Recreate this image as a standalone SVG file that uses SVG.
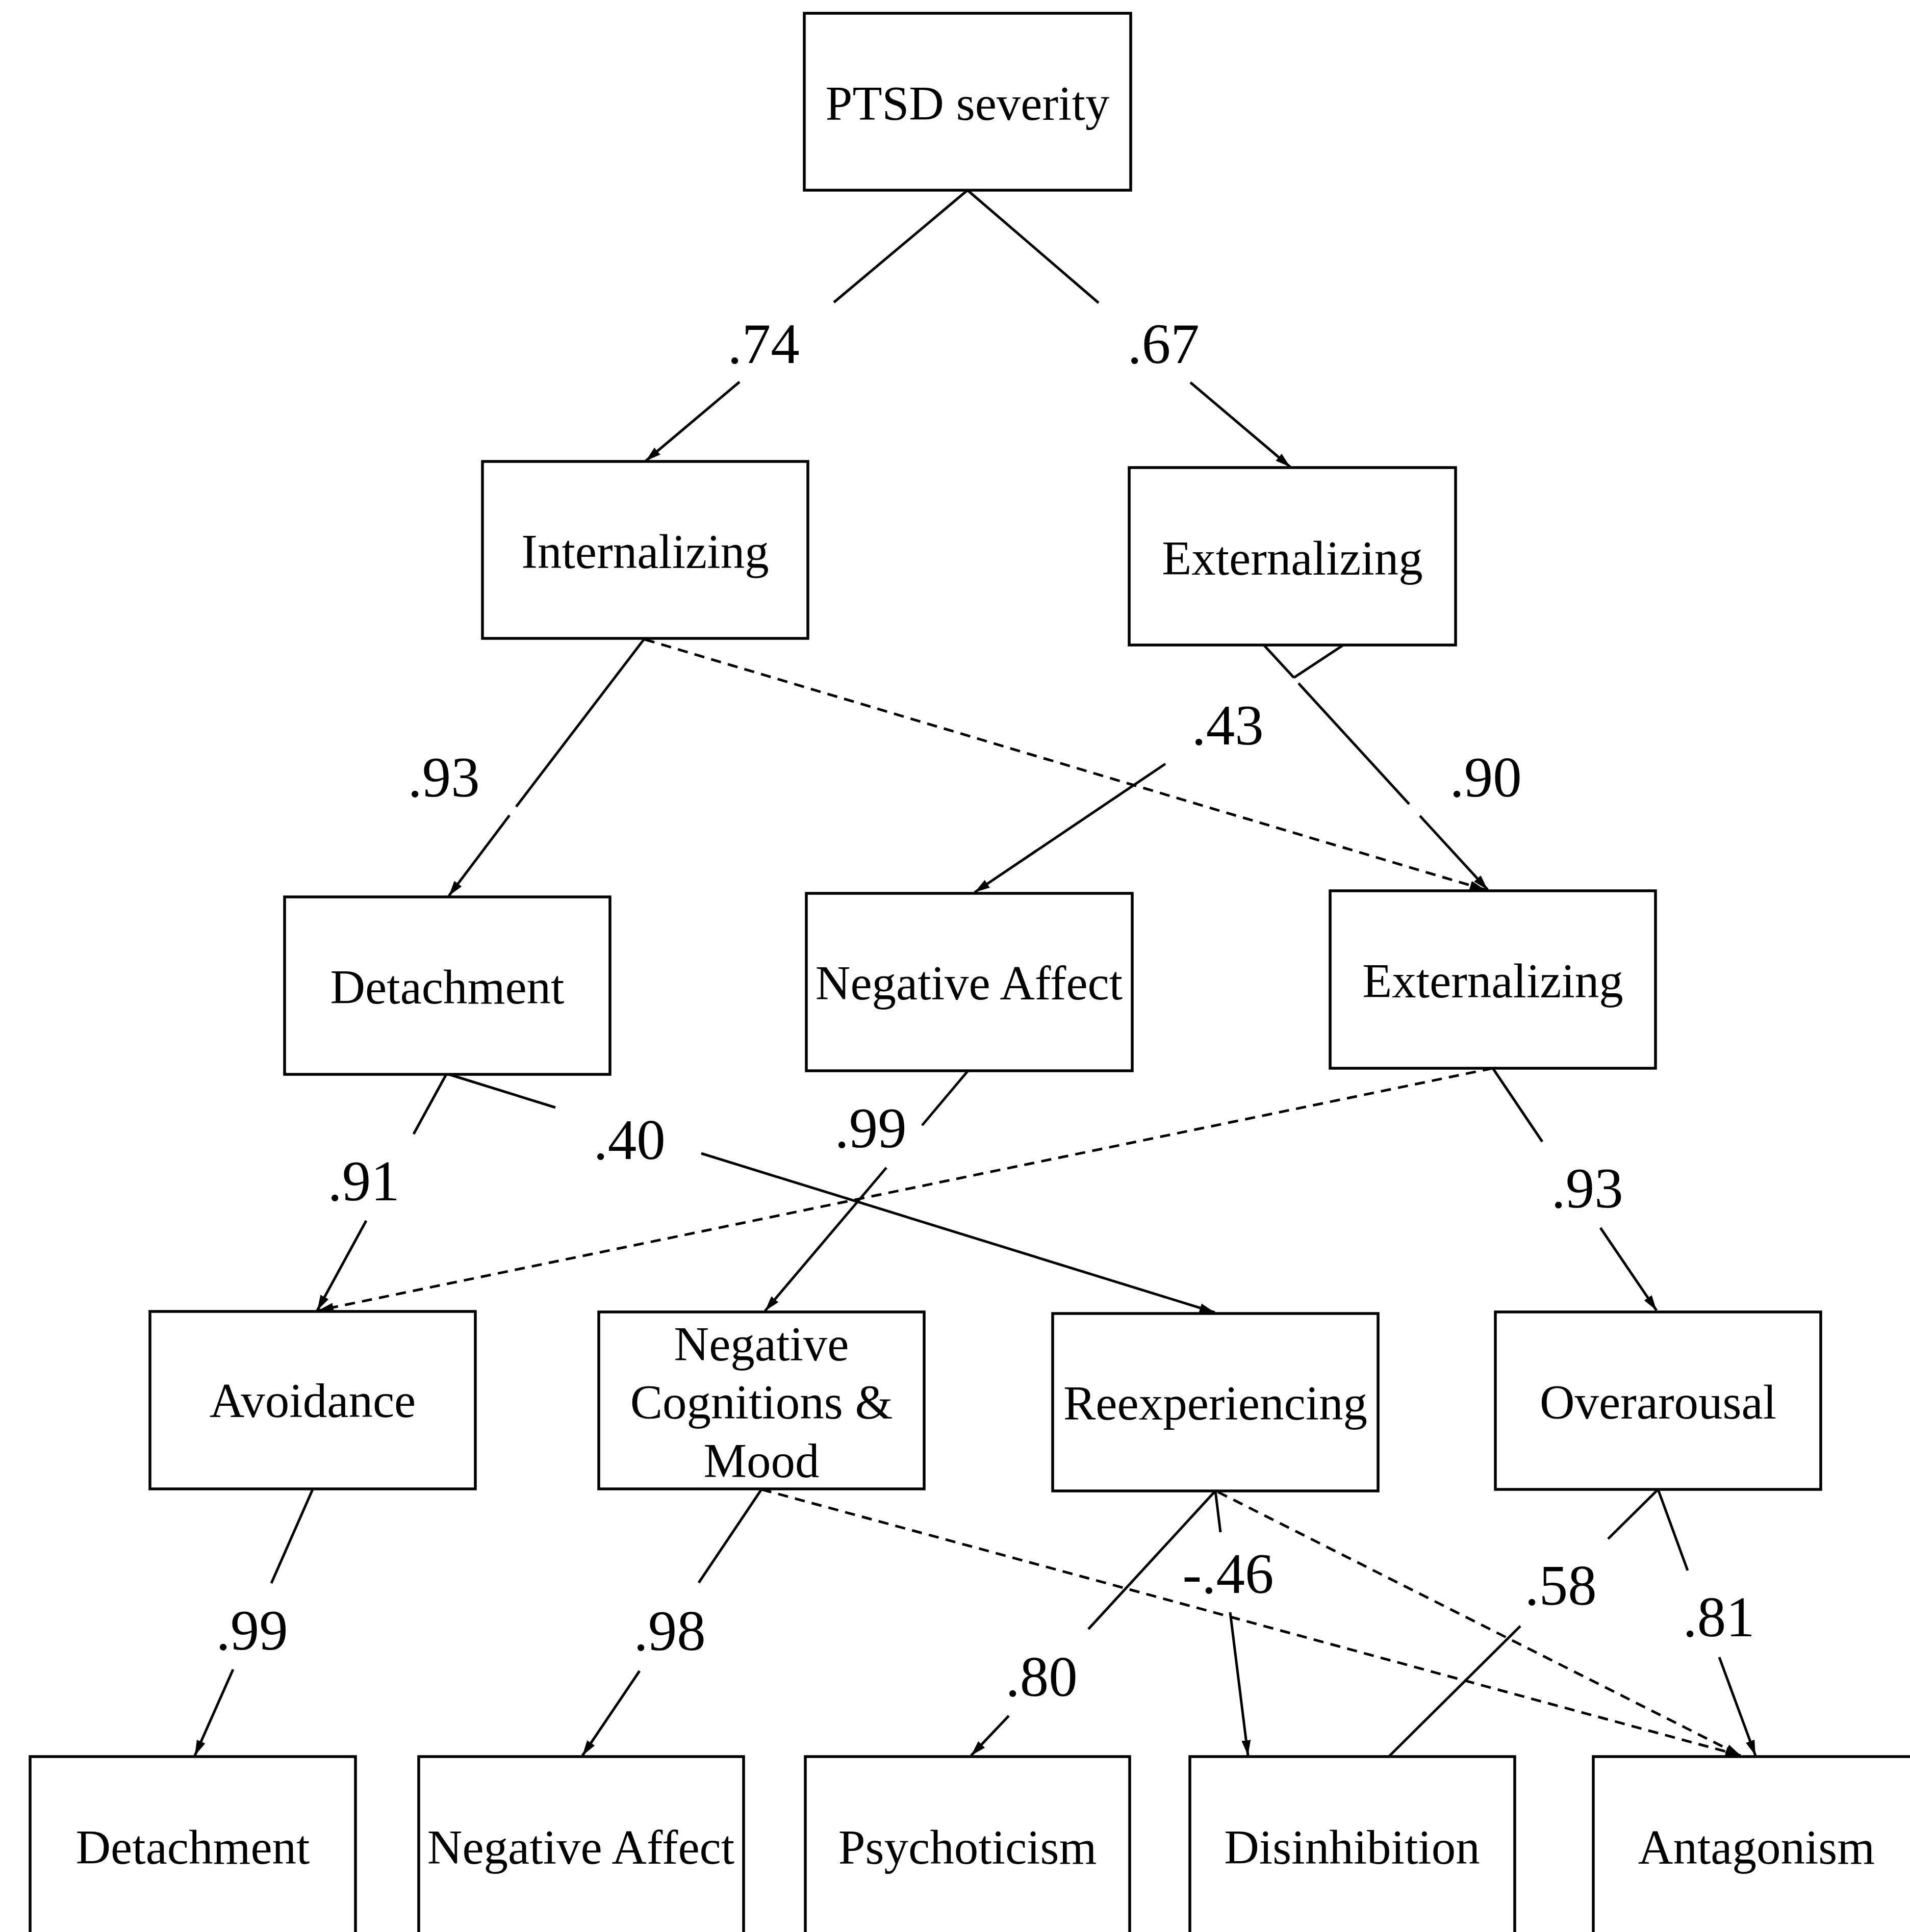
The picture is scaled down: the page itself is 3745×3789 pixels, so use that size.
<svg xmlns="http://www.w3.org/2000/svg" width="3745" height="3789" viewBox="0 0 3745 3789">
<style>
.box{fill:#fff;stroke:#000;stroke-width:5.5}
.nt{font-family:"Liberation Serif","Times New Roman",serif;font-size:95px;text-anchor:middle;fill:#000}
.lb{font-family:"Liberation Serif","Times New Roman",serif;font-size:113px;text-anchor:middle;fill:#000}
.ln{fill:none;stroke:#000;stroke-width:5}
.arr{marker-end:url(#ah)}
.dash{fill:none;stroke:#000;stroke-width:5;stroke-dasharray:20 14;marker-end:url(#ah)}
</style>
<defs>
<marker id="ah" markerUnits="userSpaceOnUse" markerWidth="32" markerHeight="20" refX="30" refY="10" orient="auto" viewBox="0 0 32 20">
<path d="M0,1 L30,10 L0,19 Z" fill="#000"/>
</marker>
</defs>
<rect width="3745" height="3789" fill="#fff"/>
<g id="connectors">
<path class="ln arr" d="M1897,373 L1635,593 M1450,749 L1266,904"/>
<path class="ln arr" d="M1897,373 L2154,594 M2334,750 L2530,916"/>
<path class="ln arr" d="M1264,1252 L1012,1582 M999,1599 L880,1757"/>
<path class="ln arr" d="M2634,1265 L2537,1329 M2285,1498 L1911,1750"/>
<path class="ln arr" d="M2478,1265 L2537,1329 M2546,1340 L2763,1577 M2784,1600 L2917,1745"/>
<path class="dash" d="M1264,1254 L2912,1745"/>
<path class="ln arr" d="M875,2107 L811,2224 M718,2394 L622,2570"/>
<path class="ln arr" d="M880,2107 L1089,2172 M1375,2262 L2382,2574"/>
<path class="ln arr" d="M1898,2100 L1808,2207 M1738,2290 L1500,2571"/>
<path class="dash" d="M2927,2095 L624,2570"/>
<path class="ln arr" d="M2927,2095 L3024,2239 M3138,2408 L3248,2570"/>
<path class="ln arr" d="M613,2921 L532,3105 M457,3274 L382,3443"/>
<path class="ln arr" d="M1493,2921 L1370,3104 M1254,3277 L1142,3443"/>
<path class="dash" d="M1493,2921 L3413,3443"/>
<path class="ln arr" d="M2383,2924 L2134,3195 M1978,3365 L1904,3443"/>
<path class="ln arr" d="M2383,2924 L2393,3005 M2412,3162 L2447,3443"/>
<path class="dash" d="M2388,2926 L3413,3443"/>
<path class="ln" d="M2723,3445 L2981,3189 M3153,3018 L3251,2921"/>
<path class="ln arr" d="M3251,2921 L3309,3080 M3371,3250 L3442,3443"/>
</g>
<g id="labels">
<text class="lb" x="1497" y="712">.74</text>
<text class="lb" x="2281" y="712">.67</text>
<text class="lb" x="870" y="1562">.93</text>
<text class="lb" x="2407" y="1460">.43</text>
<text class="lb" x="2913" y="1562">.90</text>
<text class="lb" x="713" y="2354">.91</text>
<text class="lb" x="1234" y="2273">.40</text>
<text class="lb" x="1707" y="2250">.99</text>
<text class="lb" x="3112" y="2368">.93</text>
<text class="lb" x="494" y="3235">.99</text>
<text class="lb" x="1313" y="3236">.98</text>
<text class="lb" x="2042" y="3326">.80</text>
<text class="lb" x="2408" y="3124">-.46</text>
<text class="lb" x="3060" y="3147">.58</text>
<text class="lb" x="3370" y="3209">.81</text>
</g>
<g id="node-ptsd"><rect class="box" x="1577" y="26" width="640" height="347"/><text class="nt" x="1897" y="235">PTSD severity</text></g>
<g id="node-internalizing"><rect class="box" x="946" y="905" width="638" height="347"/><text class="nt" x="1265" y="1114">Internalizing</text></g>
<g id="node-externalizing-top"><rect class="box" x="2214" y="917" width="640" height="348"/><text class="nt" x="2534" y="1127">Externalizing</text></g>
<g id="node-detachment-mid"><rect class="box" x="558" y="1759" width="638" height="348"/><text class="nt" x="877" y="1968">Detachment</text></g>
<g id="node-negaffect-mid"><rect class="box" x="1581" y="1752" width="639" height="348"/><text class="nt" x="1900" y="1960">Negative Affect</text></g>
<g id="node-externalizing-mid"><rect class="box" x="2608" y="1747" width="638" height="348"/><text class="nt" x="2927" y="1956">Externalizing</text></g>
<g id="node-avoidance"><rect class="box" x="294" y="2572" width="638" height="348"/><text class="nt" x="613" y="2779">Avoidance</text></g>
<g id="node-negcog"><rect class="box" x="1174" y="2573" width="638" height="347"/><text class="nt" x="1493" y="2668">Negative</text><text class="nt" x="1493" y="2782">Cognitions &amp;</text><text class="nt" x="1493" y="2897">Mood</text></g>
<g id="node-reexperiencing"><rect class="box" x="2064" y="2576" width="638" height="348"/><text class="nt" x="2383" y="2784">Reexperiencing</text></g>
<g id="node-overarousal"><rect class="box" x="2932" y="2573" width="638" height="348"/><text class="nt" x="3251" y="2782">Overarousal</text></g>
<g id="node-detachment"><rect class="box" x="59" y="3445" width="638" height="420"/><text class="nt" x="378" y="3655">Detachment</text></g>
<g id="node-negaffect"><rect class="box" x="821" y="3445" width="637" height="420"/><text class="nt" x="1139" y="3655">Negative Affect</text></g>
<g id="node-psychoticism"><rect class="box" x="1579" y="3445" width="636" height="420"/><text class="nt" x="1897" y="3655">Psychoticism</text></g>
<g id="node-disinhibition"><rect class="box" x="2333" y="3445" width="637" height="420"/><text class="nt" x="2651" y="3655">Disinhibition</text></g>
<g id="node-antagonism"><rect class="box" x="3124" y="3445" width="640" height="420"/><text class="nt" x="3444" y="3655">Antagonism</text></g>
</svg>
